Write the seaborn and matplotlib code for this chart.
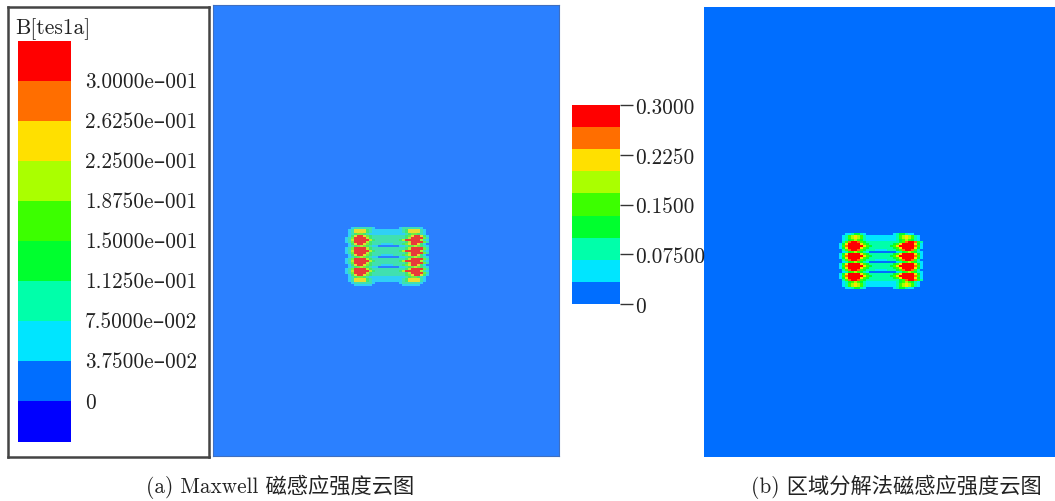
import matplotlib
matplotlib.use('Agg')
import matplotlib.pyplot as plt
import numpy as np
import seaborn as sns
from matplotlib.colors import ListedColormap

W, H = 1055, 502

# contour level colours, lowest level first
level_colors = ['#0000ff', '#006eff', '#00e5ff', '#00ffaa', '#00ff2e',
                '#3cff00', '#aaff00', '#ffe000', '#ff6e00', '#ff0000']
# the Maxwell plot is a bit washed out
maxwell_colors = ['#0000ff', '#2b80ff', '#30d0f5', '#40e0b0', '#40e870',
                  '#70ee40', '#b5ee30', '#e8dc30', '#ee7040', '#e83a3a']

legend_a_levels = [9, 8, 7, 6, 5, 4, 3, 2, 1, 0]
legend_a_labels = ['3.0000e–001', '2.6250e–001', '2.2500e–001', '1.8750e–001', '1.5000e–001',
                   '1.1250e–001', '7.5000e–002', '3.7500e–002', '0']
legend_b_levels = [9, 8, 7, 6, 5, 4, 3, 2, 1]
legend_b_ticks = [0.3, 0.225, 0.15, 0.075, 0.0]
legend_b_labels = ['0.3000', '0.2250', '0.1500', '0.07500', '0']

# contour level per cell around the coils, one digit per cell
field_a = [
    '1111111111111111111111111111',
    '1111111111111111111111111111',
    '1123333332111111112333333211',
    '1237777432222222222347777321',
    '1237777432222222222347777321',
    '1234554322222222222234554321',
    '1247997543333333333345799742',
    '2359999643333333333346999953',
    '2369999964333333334699999632',
    '2359999643333333333346999953',
    '1247997543332222333457997421',
    '1234565432211111112234565432',
    '2359999643333333333346999953',
    '2369999964333333334699999632',
    '2359999643333333333346999953',
    '1247997543332222333457997421',
    '1234565432211111112234565432',
    '2359999643333333333346999953',
    '2369999964333333334699999632',
    '2359999643333333333346999953',
    '1247997543332222333457997421',
    '1234565432211111112234565432',
    '2359999643333333333346999953',
    '2369999964333333334699999632',
    '2359999643333333333346999953',
    '1247997543333333333345799742',
    '1234554322222222222234554321',
    '1237777432222222222347777321',
    '1237777432222222222347777321',
    '1123333332111111112333333211',
    '1112222221111111111222222111',
    '1111111111111111111111111111',
    '1111111111111111111111111111',
    '1111111111111111111111111111',
]
field_b = [
    '1111111111111111111111111111',
    '1111111111111111111111111111',
    '1122344321111111112344322111',
    '1235676532222222222356765321',
    '1235676532222222222356765321',
    '1234565432222222222345654321',
    '1358998543333333333345899853',
    '2479999754333333334579999742',
    '2589999975433333345799999852',
    '2479999754333333334579999742',
    '1358998543332222333458998531',
    '1234565432111111111234565432',
    '2479999754333333334579999742',
    '2589999975433333345799999852',
    '2479999754333333334579999742',
    '1358998543332222333458998531',
    '1234565432111111111234565432',
    '2479999754333333334579999742',
    '2589999975433333345799999852',
    '2479999754333333334579999742',
    '1358998543332222333458998531',
    '1234565432111111111234565432',
    '2479999754333333334579999742',
    '2589999975433333345799999852',
    '2479999754333333334579999742',
    '1358998543333333333345899853',
    '1234565432222222222345654321',
    '1235676532222222222356765321',
    '1235676532222222222356765321',
    '1122344321111111112344322111',
    '1111111111111111111111111111',
    '1111111111111111111111111111',
    '1111111111111111111111111111',
    '1111111111111111111111111111',
]

sns.set_theme(style='white')
plt.rcParams['font.family'] = ['cmr10', 'Noto Sans CJK SC', 'DejaVu Sans']
plt.rcParams['axes.unicode_minus'] = False

fig = plt.figure(figsize=(W / 100, H / 100), dpi=100, facecolor='white')


def box(x0, y0, x1, y1):
    # axes from pixel corners, y counted from the top like in the picture
    return fig.add_axes([x0 / W, 1 - y1 / H, (x1 - x0) / W, (y1 - y0) / H])


def levels_map(ax, values, colors):
    sns.heatmap(np.array(values), ax=ax, cmap=ListedColormap(colors), vmin=-0.5, vmax=9.5,
                cbar=False, xticklabels=False, yticklabels=False)


def digits(rows):
    return [[int(c) for c in row] for row in rows]


# frame around the Maxwell legend
ax_frame = box(8, 8, 209, 458)
ax_frame.set_xticks([])
ax_frame.set_yticks([])
for s in ax_frame.spines.values():
    s.set_visible(True)
    s.set_color('#444444')
    s.set_linewidth(1.8)
fig.text(15 / W, 1 - 29 / H, 'B[tes1a]', fontsize=15.5, va='center', color='#222222')

# Maxwell legend
ax_la = box(18, 41.5, 71, 442.5)
levels_map(ax_la, [[v] for v in legend_a_levels], level_colors)
ax_la.set_yticks([i - 0.04 for i in range(1, len(legend_a_labels) + 1)])
ax_la.set_yticklabels(legend_a_labels, rotation=0, fontsize=15.3, color='#222222')
ax_la.yaxis.tick_right()
ax_la.tick_params(axis='y', length=0, pad=10.2)

# Maxwell field
ax_a = box(213, 6, 559, 457)
levels_map(ax_a, [[1]], maxwell_colors)
for s in ax_a.spines.values():
    s.set_visible(True)
    s.set_color('#3f6fc0')
    s.set_linewidth(0.8)
ax_a2 = box(345, 224, 429, 293.4)
levels_map(ax_a2, digits(field_a), maxwell_colors)

# field of the domain decomposition result
ax_b = box(704, 8, 1055, 458)
levels_map(ax_b, [[1]], level_colors)
ax_b2 = box(839, 230, 923, 298)
levels_map(ax_b2, digits(field_b), level_colors)

# colour bar b, ticks placed by value
ax_lb = box(572, 106, 620, 305)
levels_map(ax_lb, [[v] for v in legend_b_levels], level_colors)
ax_lb.set_yticks([(0.3 - t) / 0.3 * len(legend_b_levels) for t in legend_b_ticks])
ax_lb.set_yticklabels(legend_b_labels, rotation=0, fontsize=15.3, color='#222222')
ax_lb.yaxis.tick_right()
ax_lb.tick_params(axis='y', length=9, width=1, pad=2, color='#333333', right=True)

fig.text(146 / W, 1 - 487 / H, '(a) Maxwell 磁感应强度云图', fontsize=15.3, va='center', color='#222222')
fig.text(751 / W, 1 - 487 / H, '(b) 区域分解法磁感应强度云图', fontsize=15.3, va='center', color='#222222')

fig.savefig('out.png', dpi=100)
